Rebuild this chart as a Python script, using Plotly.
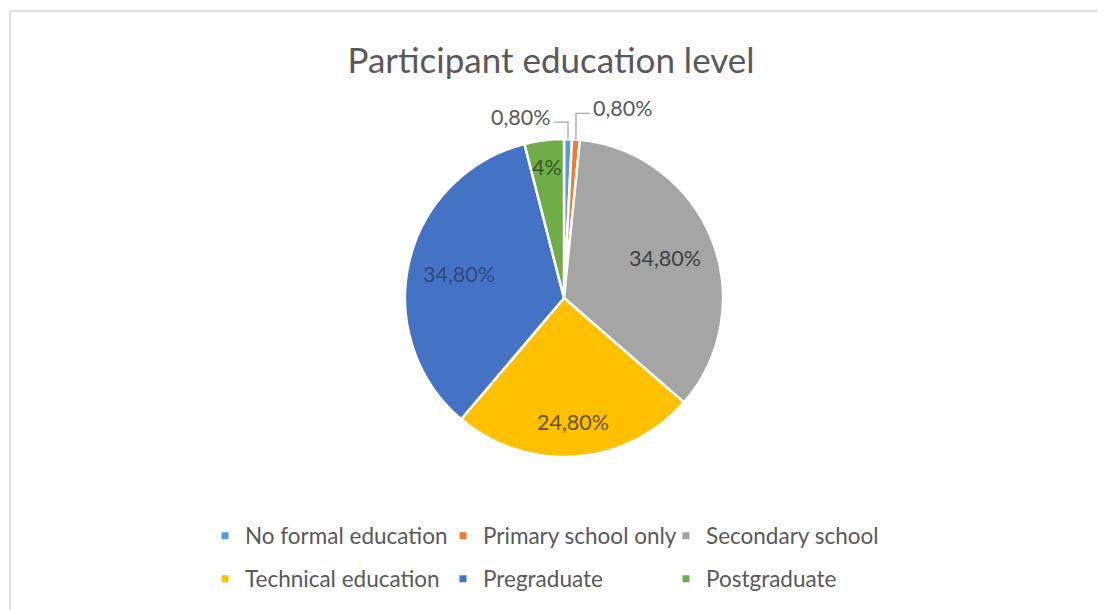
import math
import plotly.graph_objects as go

# ---- data ----
categories = ["No formal education", "Primary school only", "Secondary school",
              "Technical education", "Pregraduate", "Postgraduate"]
values = [0.8, 0.8, 34.8, 24.8, 34.8, 4.0]
colors = ["#5B9BD5", "#ED7D31", "#A5A5A5", "#FFC000", "#4472C4", "#70AD47"]
label_colors = ["#595959", "#595959", "#404040", "#6B5300", "#2D4A80", "#355A28"]
title_text = "Participant education level"


def fmt(v):
    if abs(v - round(v)) < 1e-9:
        return f"{int(round(v))}%"
    return f"{v:.2f}".replace(".", ",") + "%"


texts = [fmt(v) for v in values]

# ---- layout constants (style) ----
OFF = 8                      # page body margin
W, H = 1105 - OFF, 610 - OFF
cx, cy, r = 564, 298, 159    # pie centre / radius in page pixels
FONT = "Lato"
LABEL_SIZE = 21.5
# radial position of inside labels (fraction of radius); None -> outside label with leader
label_radius = [None, None, 0.68, 0.78, 0.68, 0.83]
# outside labels: side (-1 left / +1 right), leader rise above slice edge (px)
outside_cfg = {0: (-1, 17), 1: (1, 26)}
leader_gap = 14
# legend grid (page px): text start per column, row centre
leg_cols = [245, 483, 706]
leg_rows = [536, 579]


def PX(x):
    return (x - OFF) / W


def PY(y):
    return 1 - (y - OFF) / H


fig = go.Figure()

fig.add_trace(go.Pie(
    labels=categories,
    values=values,
    text=texts,
    textinfo="none",
    marker=dict(colors=colors, line=dict(color="white", width=2.5)),
    sort=False,
    direction="clockwise",
    rotation=0,
    showlegend=False,
    hoverinfo="label+text",
    domain=dict(x=[PX(cx - r), PX(cx + r)], y=[PY(cy + r), PY(cy - r)]),
))

# legend entries, one legend per entry so the grid matches
legend_layout = {}
for i, name in enumerate(categories):
    key = "legend" if i == 0 else f"legend{i + 1}"
    fig.add_trace(go.Scatter(
        x=[None], y=[None], mode="markers", name=name,
        marker=dict(symbol="square", size=7, color=colors[i]),
        legend=key, hoverinfo="skip",
    ))
    col, row = i % 3, i // 3
    legend_layout[key] = dict(
        x=PX(leg_cols[col] - 40), y=PY(leg_rows[row]),
        xanchor="left", yanchor="middle", orientation="h",
        font=dict(family=FONT, size=22.5, color="#595959"),
        bgcolor="rgba(0,0,0,0)", itemclick=False, itemdoubleclick=False,
    )

# data labels
total = sum(values)
annotations = []
shapes = []
cum = 0.0
for i, v in enumerate(values):
    mid = (cum + v / 2) / total
    cum += v
    ang = 2 * math.pi * mid
    s, c = math.sin(ang), math.cos(ang)
    if label_radius[i] is not None:
        k = label_radius[i]
        annotations.append(dict(
            x=PX(cx + k * r * s), y=PY(cy - k * r * c), xref="paper", yref="paper",
            text=texts[i], showarrow=False, xanchor="center", yanchor="middle",
            font=dict(family=FONT, size=LABEL_SIZE, color=label_colors[i]),
        ))
    else:
        side, rise = outside_cfg[i]
        ex, ey = cx + r * s, cy - r * c
        ly = ey - rise
        tx = ex + side * leader_gap
        shapes.append(dict(
            type="path", xref="paper", yref="paper",
            path=f"M{PX(ex)},{PY(ey)} L{PX(ex)},{PY(ly)} L{PX(tx)},{PY(ly)}",
            line=dict(color="#A6A6A6", width=1.3),
        ))
        annotations.append(dict(
            x=PX(tx + side * 1), y=PY(ly - 5), xref="paper", yref="paper",
            text=texts[i], showarrow=False,
            xanchor="right" if side < 0 else "left", yanchor="middle",
            font=dict(family=FONT, size=LABEL_SIZE, color=label_colors[i]),
        ))

shapes.append(dict(type="rect", xref="paper", yref="paper",
                   x0=PX(10), x1=PX(1103), y0=-0.05, y1=PY(11),
                   line=dict(color="#D9D9D9", width=1.5), layer="below"))

fig.update_layout(
    width=W, height=H,
    margin=dict(l=0, r=0, t=0, b=0),
    paper_bgcolor="white", plot_bgcolor="white",
    title=dict(text=title_text, x=PX(551), y=PY(61), xanchor="center", yanchor="middle",
               font=dict(family=FONT, size=35, color="#595959")),
    xaxis=dict(visible=False), yaxis=dict(visible=False),
    annotations=annotations,
    shapes=shapes,
    **legend_layout,
)

fig.write_html("out.html")
